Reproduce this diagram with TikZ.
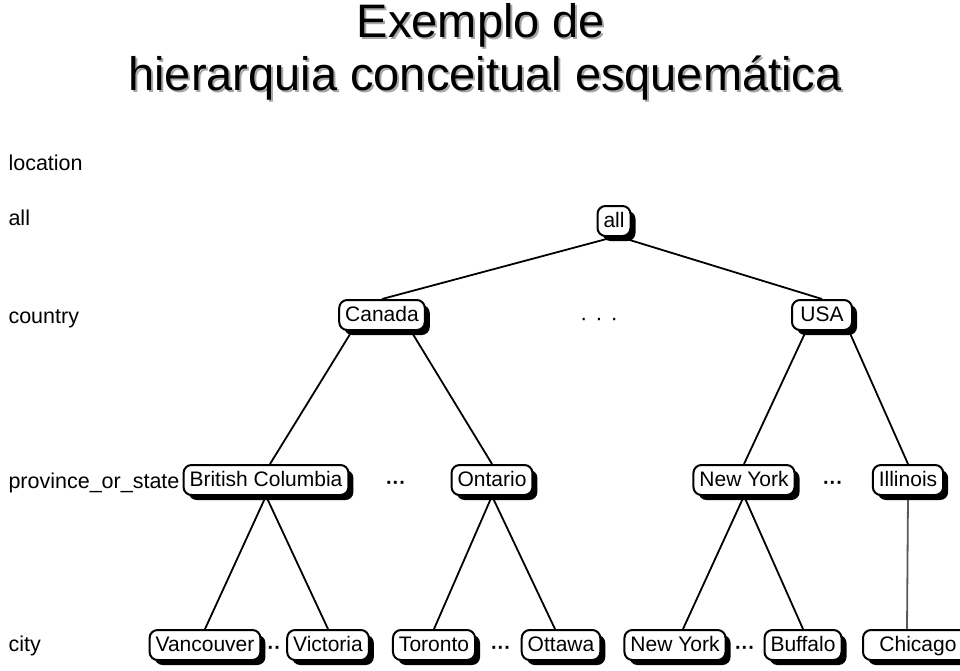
\documentclass[tikz,border=0pt]{standalone}
\usepackage{fontspec}
\setmainfont{Liberation Sans}
\usetikzlibrary{shadows,backgrounds}

\tikzset{
	hnode/.style={draw, line width=2pt, rounded corners=8pt, fill=white,
		font=\fontsize{21}{21}\selectfont, text height=16pt, text depth=4pt,
		inner xsep=6pt, inner ysep=5pt,
		drop shadow={shadow xshift=5pt, shadow yshift=-5pt, fill=black, opacity=1}},
	lvl/.style={anchor=base west, font=\fontsize{21.5}{22}\selectfont},
	dots/.style={font=\fontsize{20}{20}\selectfont\bfseries},
	link/.style={line width=1.8pt},
	ttl/.style={anchor=base, font=\fontsize{47}{47}\selectfont}
}

\begin{document}
\begin{tikzpicture}[x=1pt, y=-1pt]
			%%%%% START %%%%%
			\useasboundingbox (0, 0) rectangle (960, 670);
			
			% title
			\node[ttl, text=black!35] at (483, 39) {Exemplo de};
			\node[ttl] (title1) at (481, 37) {Exemplo de};
			\node[ttl, text=black!35] at (487, 92) {hierarquia conceitual esquemática};
			\node[ttl] (title2) at (485, 90) {hierarquia conceitual esquemática};
			
			% levels
			\node[lvl] (Llocation) at (5, 170) {location};
			\node[lvl] (Lall) at (5, 225) {all};
			\node[lvl] (Lcountry) at (5, 323) {country};
			\node[lvl] (Lprov) at (5, 488) {province\_or\_state};
			\node[lvl] (Lcity) at (5, 651) {city};
			
			% boxes
			\node[hnode] (all) at (614, 221) {all};
			\node[hnode] (Canada) at (382, 315) {Canada};
			\node[hnode, minimum width=60pt] (USA) at (822, 315) {USA};
			\node[hnode] (BC) at (266, 480) {British Columbia};
			\node[hnode] (Ontario) at (492, 480) {Ontario};
			\node[hnode] (NY) at (744, 480) {New York};
			\node[hnode] (Illinois) at (908, 480) {Illinois};
			
			\node[hnode] (Vancouver) at (205, 645) {Vancouver};
			\node[hnode] (Victoria) at (328, 645) {Victoria};
			\node[hnode] (Toronto) at (434, 645) {Toronto};
			\node[hnode] (Ottawa) at (561, 645) {Ottawa};
			\node[hnode] (NYcity) at (675, 645) {New York};
			\node[hnode] (Buffalo) at (803, 645) {Buffalo};
			\node[hnode, minimum width=110pt] (Chicago) at (918, 645) {Chicago};
			
			% edges behind the boxes
			\begin{pgfonlayer}{background}
			\draw[link] (all.south) -- (Canada.north);
			\draw[link] ([xshift=6pt]all.south) -- (USA.north);
			\draw[link] ([xshift=-30pt]Canada.south) -- ([xshift=4pt]BC.north);
			\draw[link] ([xshift=29pt]Canada.south) -- (Ontario.north);
			\draw[link] ([xshift=-16pt]USA.south) -- (NY.north);
			\draw[link] ([xshift=27pt]USA.south) -- (Illinois.north);
			\draw[link] (BC.south) -- (Vancouver.north);
			\draw[link] (BC.south) -- (Victoria.north);
			\draw[link] (Ontario.south) -- (Toronto.north);
			\draw[link] (Ontario.south) -- ([xshift=-6pt]Ottawa.north);
			\draw[link] (NY.south) -- ([xshift=8pt]NYcity.north);
			\draw[link] (NY.south) -- (Buffalo.north);
			\draw[link, black!65] (Illinois.south) -- ([xshift=-11pt]Chicago.north);
			\end{pgfonlayer}
			
			% dots
			\node[font=\fontsize{22}{22}\selectfont] (d0) at (599, 322) {·\hspace{8pt}·\hspace{8pt}·};
			\node[dots] (d1) at (396, 485) {···};
			\node[dots] (d2) at (833, 485) {···};
			\node[dots] (d3) at (271, 650) {···};
			\node[dots] (d4) at (501, 650) {···};
			\node[dots] (d5) at (745, 650) {···};
			%%%%% END %%%%%
		\end{tikzpicture}
\end{document}
